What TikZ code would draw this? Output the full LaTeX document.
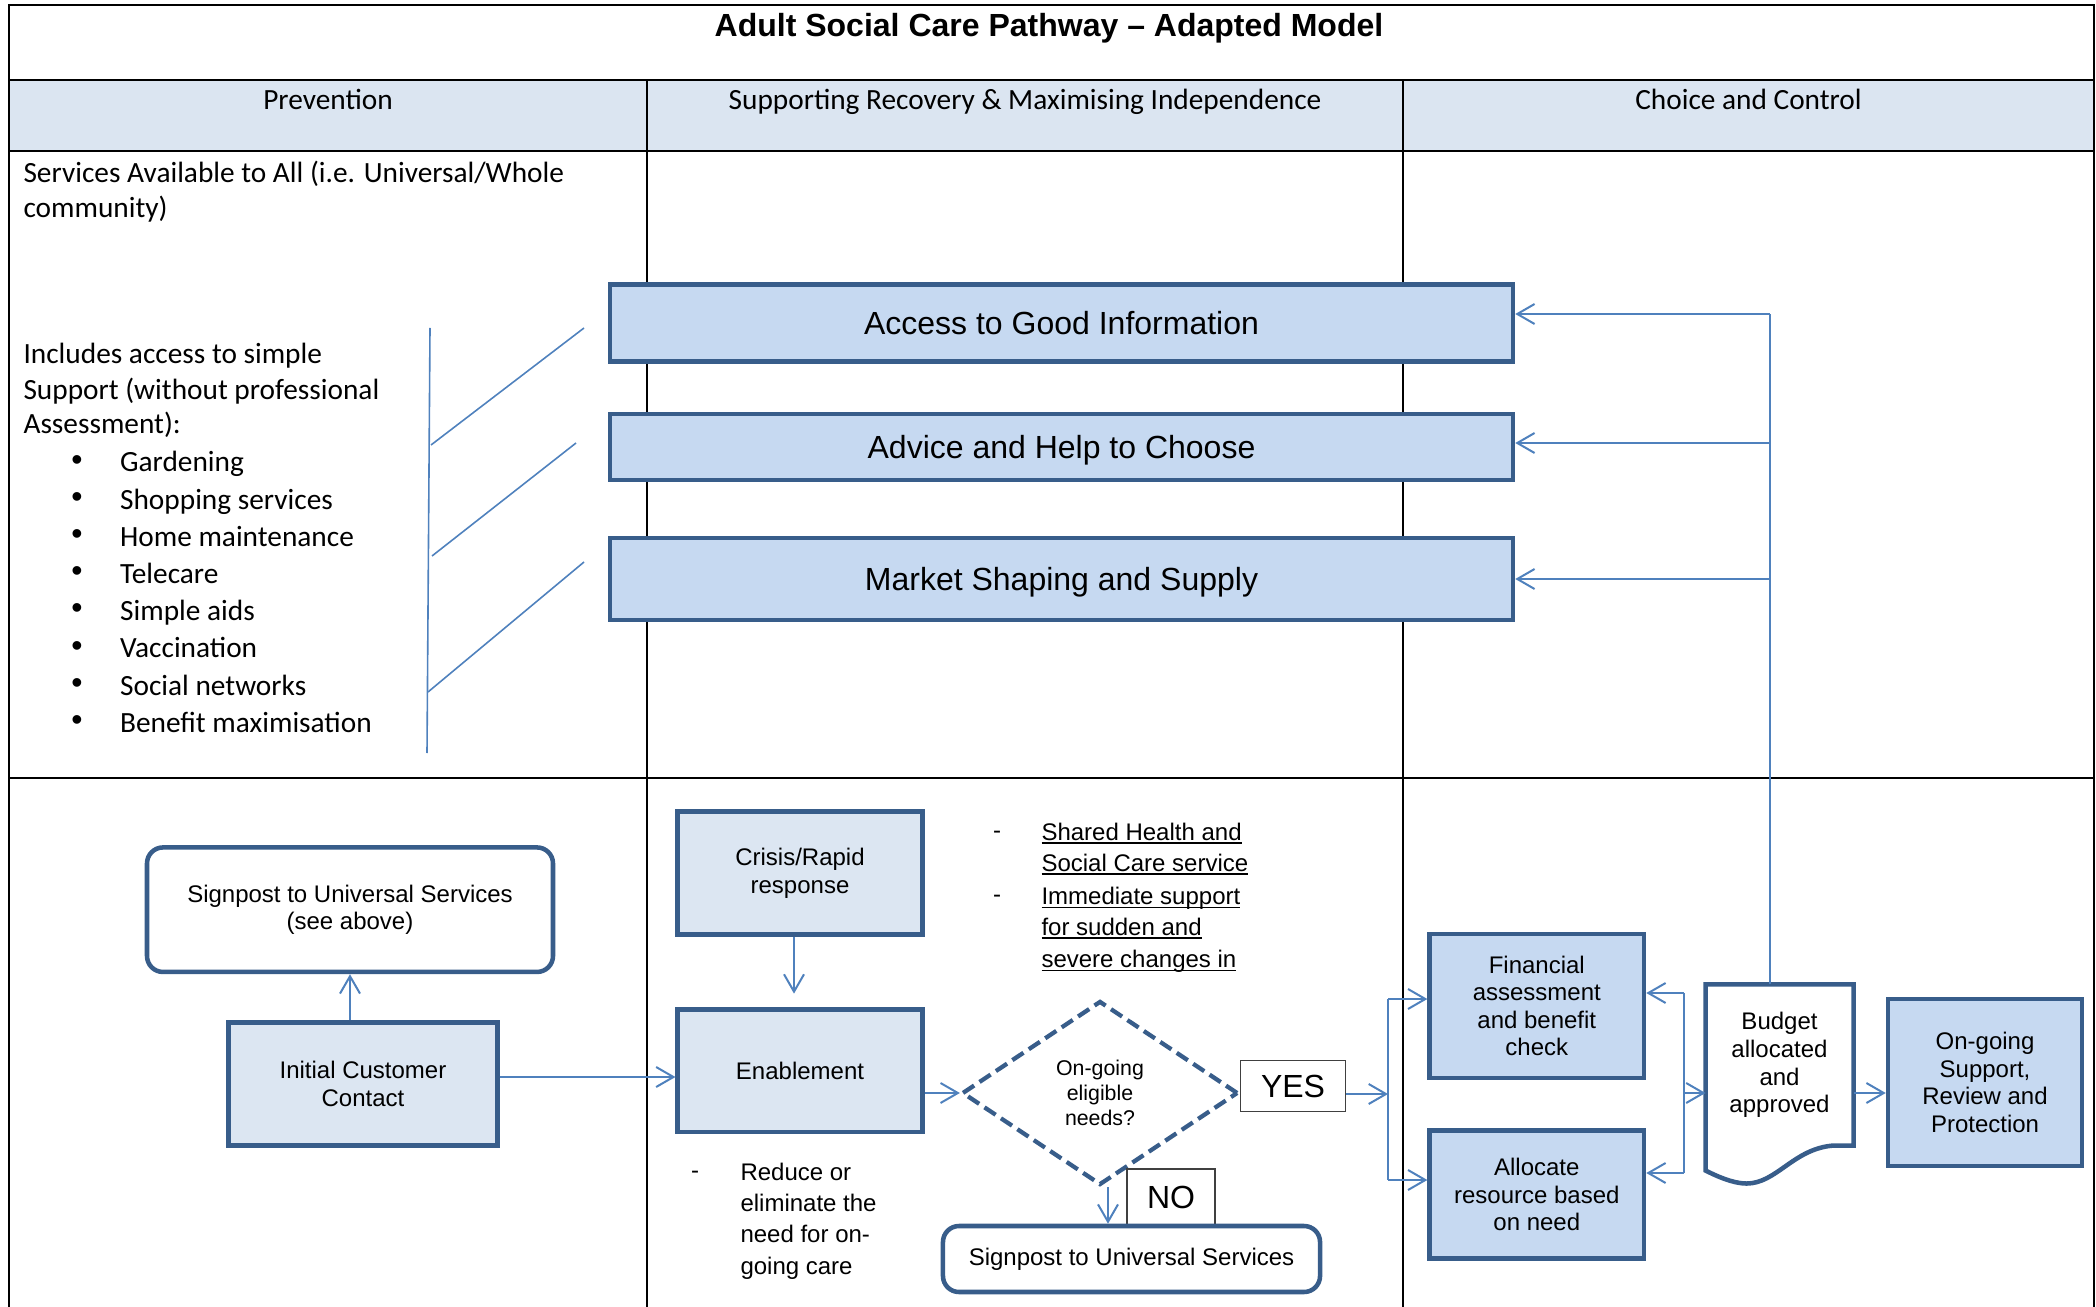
\documentclass[tikz,border=0pt]{standalone}
\usepackage{fontspec}
\setmainfont{Liberation Sans}
\newfontfamily\calibri{Carlito}
\usepackage{tikz}
\usetikzlibrary{positioning, calc, arrows.meta, shapes.geometric}
\definecolor{boxline}{HTML}{385D8A}
\definecolor{boxfill}{HTML}{C6D9F1}
\definecolor{palefill}{HTML}{DCE6F2}
\definecolor{headfill}{HTML}{DBE5F1}
\definecolor{linkblue}{HTML}{4F81BD}
\newcommand{\undl}[1]{\setbox0\hbox{#1}\rlap{\rule[-1.4pt]{\wd0}{0.55pt}}\box0}

\begin{document}
\begin{tikzpicture}[x=0.375pt, y=-0.375pt,
	grid/.style={line width=0.9pt},
	link/.style={draw=linkblue, line width=0.75pt},
	flow/.style={link, -{Straight Barb[length=6.5pt, width=7.5pt]}},
	bodytext/.style={font=\calibri\fontsize{11}{13.4}\selectfont, inner sep=0pt, yshift=-1.3pt},
	note/.style={font=\fontsize{9}{10.8}\selectfont, inner sep=0pt, yshift=-1.3pt},
	topbox/.style={draw=boxline, line width=1.7pt, fill=boxfill, minimum width=338.6pt, text height=8.6pt, text depth=0pt, font=\fontsize{12}{14.4}\selectfont},
	stepbox/.style={draw=boxline, line width=1.7pt, align=center, inner sep=2pt, font=\fontsize{9}{10.35}\selectfont},
	tagbox/.style={draw=black!75, line width=0.5pt, fill=white, text height=8.6pt, text depth=0pt, font=\fontsize{12}{14}\selectfont}]
\useasboundingbox (0,0) rectangle (2096,1307);

% table frame
\fill[headfill] (9,80) rectangle (2094,151);
\draw[grid] (9,1307) -- (9,5) -- (2094,5) -- (2094,1307);
\foreach \y in {80, 151, 778}
	\draw[grid] (9,\y) -- (2094,\y);
\foreach \x in {647, 1403}
	\draw[grid, line width=0.7pt] (\x,80) -- (\x,1307);

\node[font=\bfseries\fontsize{12}{14.4}\selectfont] (title) at (1049,28) {Adult Social Care Pathway – Adapted Model};
\foreach \x/\t [count=\i] in {328/Prevention, 1025/Supporting Recovery \& Maximising Independence, 1748.5/Choice and Control}
	\node[bodytext] (head\i) at (\x,99) {\t\strut};

% prevention column
\node[bodytext, anchor=west] (univ1) at (23,171.7) {Services Available to All (i.e. Universal/Whole\strut};
\node[bodytext, anchor=west] (univ2) at (23,207.3) {community)\strut};
\node[bodytext, anchor=west] (incl1) at (23,352.4) {Includes access to simple\strut};
\node[bodytext, anchor=west] (incl2) at (23,388.4) {Support (without professional\strut};
\node[bodytext, anchor=west] (incl3) at (23,422.8) {Assessment):\strut};
\foreach \t [count=\i from 0] in {Gardening, Shopping services, Home maintenance, Telecare, Simple aids, Vaccination, Social networks, Benefit maximisation} {
	\node[bodytext, font=\fontsize{12}{14}\selectfont] (bul\i) at (77, 459.2+37.2*\i) {\textbullet};
	\node[bodytext, anchor=west] (item\i) at (119.6, 461.2+37.2*\i) {\t\strut};
}
\draw[link, line width=0.6pt] (430,328) -- (427,753);
\foreach \a/\b/\c/\d in {431/445/584/328, 432/556/576/443, 428/692/584/562}
	\draw[link, line width=0.6pt] (\a,\b) -- (\c,\d);

% top boxes
\node[topbox, minimum height=28.7pt] (acc) at (1061.5,323) {Access to Good Information};
\node[topbox, minimum height=24.9pt] (adv) at (1061.5,447) {Advice and Help to Choose};
\node[topbox, minimum height=30.6pt] (mkt) at (1061.5,579) {Market Shaping and Supply};

% pathway
\node[stepbox, rounded corners=6pt, fill=white, minimum width=152.25pt, minimum height=46.7pt] (sign1) at (350,909.7) {Signpost to Universal Services\\(see above)};
\node[stepbox, fill=palefill, minimum width=100.8pt, minimum height=46.1pt] (icc) at (363,1084) {Initial Customer\\Contact};
\node[stepbox, fill=palefill, minimum width=91.7pt, minimum height=46.1pt] (crisis) at (800,873) {Crisis/Rapid\\response};
\node[stepbox, fill=palefill, minimum width=91.7pt, minimum height=46.1pt] (enab) at (800,1070.7) {Enablement};
\node[note] (enabdash) at (695,1171) {-};
\foreach \y/\t [count=\i] in {1171/Reduce or, 1202/eliminate the, 1233/need for on-, 1265/going care}
	\node[note, anchor=west] (enabnote\i) at (740,\y) {\t\strut};
\node[note] (sharedash1) at (997,831) {-};
\node[note] (sharedash2) at (997,895) {-};
\foreach \y/\t [count=\i] in {831/Shared Health and, 862/Social Care service, 895/Immediate support, 926/for sudden and, 958/severe changes in}
	\node[note, anchor=west] (share\i) at (1041,\y) {\undl{\t}\strut};

\node[diamond, draw=boxline, line width=1.6pt, dash pattern=on 5pt off 2.4pt, minimum width=103.5pt, minimum height=69pt, inner sep=0pt, align=center, font=\fontsize{8}{9.4}\selectfont] (elig) at (1100,1093) {On-going\\eligible\\needs?};
\node[tagbox, minimum width=39.4pt, minimum height=19.1pt] (yes) at (1293,1086) {YES};
\node[tagbox, minimum width=33.1pt, minimum height=21pt] (no) at (1171,1197) {NO};
\node[stepbox, rounded corners=6pt, fill=white, minimum width=141.4pt, minimum height=24.75pt] (sign2) at (1131.5,1259) {Signpost to Universal Services};

\node[stepbox, fill=boxfill, minimum width=80.4pt, minimum height=54pt] (fin) at (1536.8,1006) {Financial\\assessment\\and benefit\\check};
\node[stepbox, fill=boxfill, minimum width=80.4pt, minimum height=48pt] (alloc) at (1536.8,1194.5) {Allocate\\resource based\\on need};
\node[inner sep=0pt, minimum width=55.1pt, minimum height=60pt, align=center, font=\fontsize{9}{10.35}\selectfont] (budget) at (1779.5,1065) {Budget\\allocated\\and\\approved};
\draw[draw=boxline, line width=1.7pt] ($(budget.south west)+(0,25)$) -- (budget.north west) -- (budget.north east) -- (budget.south east) -- ++(-20,0)
	.. controls +(-40,3) and +(30,0) .. ++(-87,38)
	.. controls +(-14,0) and +(10,5) .. ($(budget.south west)+(0,25)$) -- cycle;
\node[stepbox, fill=boxfill, minimum width=72.75pt, minimum height=62.6pt] (ongo) at (1985,1082.5) {On-going\\Support,\\Review and\\Protection};

% connectors
\coordinate (fb1) at (1770,314);
\coordinate (fb2) at (1770,443);
\coordinate (fb3) at (1770,579);
\draw[link] (budget.north -| fb1) -- (fb1);
\foreach \f/\b in {fb1/acc, fb2/adv, fb3/mkt}
	\draw[flow] (\f) -- (\f -| \b.east);
\draw[flow] (icc.north -| sign1.south) -- (sign1.south);
\draw[flow] ($(icc.east)+(0,-7)$) -- ($(icc.east -| enab.west)+(0,-7)$);
\draw[flow, shorten >=5pt] ($(crisis.south)+(-6,0)$) -- ($(crisis.south |- enab.north)+(-6,0)$);
\draw[flow] (enab.east |- elig.west) -- (elig.west);
\draw[flow] ($(elig.south)+(8,0)$) -- ($(elig.south |- sign2.north)+(8,0)$);
\coordinate (brl1) at (1388,999);
\coordinate (brl2) at (1388,1180);
\draw[flow] ($(yes.east)+(0,8)$) -- ($(yes.east -| brl1)+(0,8)$);
\draw[link] (brl1) -- (brl2);
\draw[flow] (brl1) -- (brl1 -| fin.west);
\draw[flow] (brl2) -- (brl2 -| alloc.west);
\coordinate (brr1) at (1684,993);
\coordinate (brr2) at (1684,1173);
\coordinate (brrm) at (1684,1093);
\draw[link] (brr1) -- (brr2);
\draw[flow] (brr1) -- (brr1 -| fin.east);
\draw[flow] (brr2) -- (brr2 -| alloc.east);
\draw[flow] (brrm) -- (brrm -| budget.west);
\draw[flow] (budget.east |- brrm) -- (brrm -| ongo.west);
\end{tikzpicture}
\end{document}
